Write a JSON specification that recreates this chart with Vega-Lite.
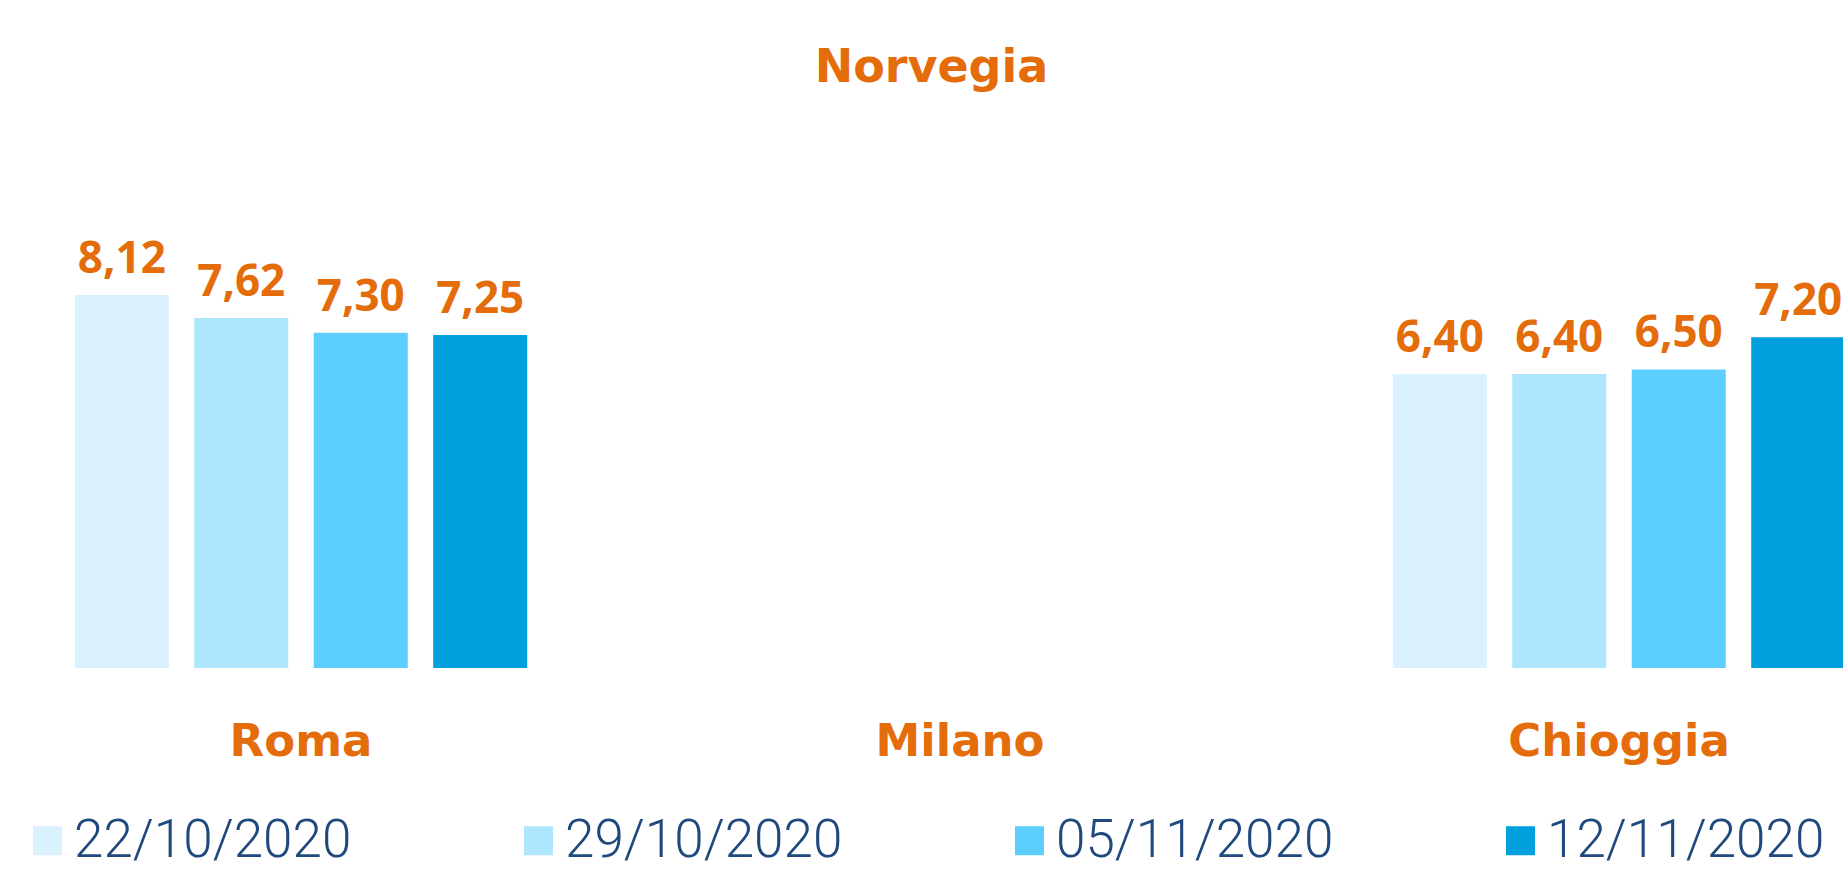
{
  "$schema": "https://vega.github.io/schema/vega-lite/v6.json",
  "width": 1843,
  "height": 568,
  "autosize": {"type": "none"},
  "padding": {"left": 0, "top": 100, "right": 0, "bottom": 201},
  "background": "white",
  "config": {
    "view": {"stroke": null},
    "locale": {"number": {"decimal": ",", "thousands": ".", "grouping": [3], "currency": ["€", ""]}}
  },
  "title": {
    "text": "Norvegia",
    "font": "DejaVu Sans",
    "fontSize": 46,
    "fontWeight": "bold",
    "color": "#E46C0A",
    "anchor": "middle",
    "baseline": "alphabetic",
    "offset": -28,
    "dx": 10
  },
  "data": {
    "values": [
      {"city": "Roma", "date": "22/10/2020", "value": 8.12},
      {"city": "Roma", "date": "29/10/2020", "value": 7.62},
      {"city": "Roma", "date": "05/11/2020", "value": 7.30},
      {"city": "Roma", "date": "12/11/2020", "value": 7.25},
      {"city": "Chioggia", "date": "22/10/2020", "value": 6.40},
      {"city": "Chioggia", "date": "29/10/2020", "value": 6.40},
      {"city": "Chioggia", "date": "05/11/2020", "value": 6.50},
      {"city": "Chioggia", "date": "12/11/2020", "value": 7.20}
    ]
  },
  "encoding": {
    "x": {
      "field": "city",
      "type": "nominal",
      "scale": {"domain": ["Roma", "Milano", "Chioggia"], "range": [-28.5, 1948.5], "paddingInner": 0.3134, "paddingOuter": 0.1567},
      "axis": {
        "title": null,
        "domain": false,
        "ticks": false,
        "grid": false,
        "labelAngle": 0,
        "labelFont": "DejaVu Sans",
        "labelFontSize": 45,
        "labelFontWeight": "bold",
        "labelColor": "#E46C0A",
        "labelBaseline": "alphabetic",
        "labelPadding": 87,
        "labelLimit": 0,
        "labelOverlap": false
      }
    },
    "xOffset": {
      "field": "date",
      "type": "nominal",
      "sort": null,
      "scale": {"domain": ["22/10/2020", "29/10/2020", "05/11/2020", "12/11/2020"], "paddingInner": 0.213, "paddingOuter": 0}
    },
    "y": {
      "field": "value",
      "type": "quantitative",
      "scale": {"domain": [0, 12.364], "nice": false, "zero": true},
      "axis": null
    }
  },
  "layer": [
    {
      "mark": {"type": "bar"},
      "encoding": {
        "color": {
          "field": "date",
          "type": "nominal",
          "scale": {
            "domain": ["22/10/2020", "29/10/2020", "05/11/2020", "12/11/2020"],
            "range": ["#DAF2FD", "#AEE6FD", "#5CCFFF", "#00A0DE"]
          },
          "legend": {
            "title": null,
            "orient": "none",
            "legendX": 21,
            "legendY": 714,
            "direction": "horizontal",
            "columns": 4,
            "symbolType": "square",
            "symbolSize": 841,
            "symbolStrokeWidth": 0,
            "symbolOpacity": 1,
            "labelFont": "Roboto",
            "labelFontSize": 53,
            "labelFontWeight": 300,
            "labelColor": "#1F497D",
            "labelOffset": 0,
            "columnPadding": 160,
            "gridAlign": "all",
            "padding": 0,
            "labelLimit": 0
          }
        }
      }
    },
    {
      "mark": {
        "type": "text",
        "font": "Open Sans",
        "fontWeight": "bold",
        "fontSize": 44,
        "color": "#E46C0A",
        "baseline": "alphabetic",
        "dy": -22
      },
      "encoding": {
        "text": {"field": "value", "type": "quantitative", "format": ".2f"}
      }
    }
  ]
}
